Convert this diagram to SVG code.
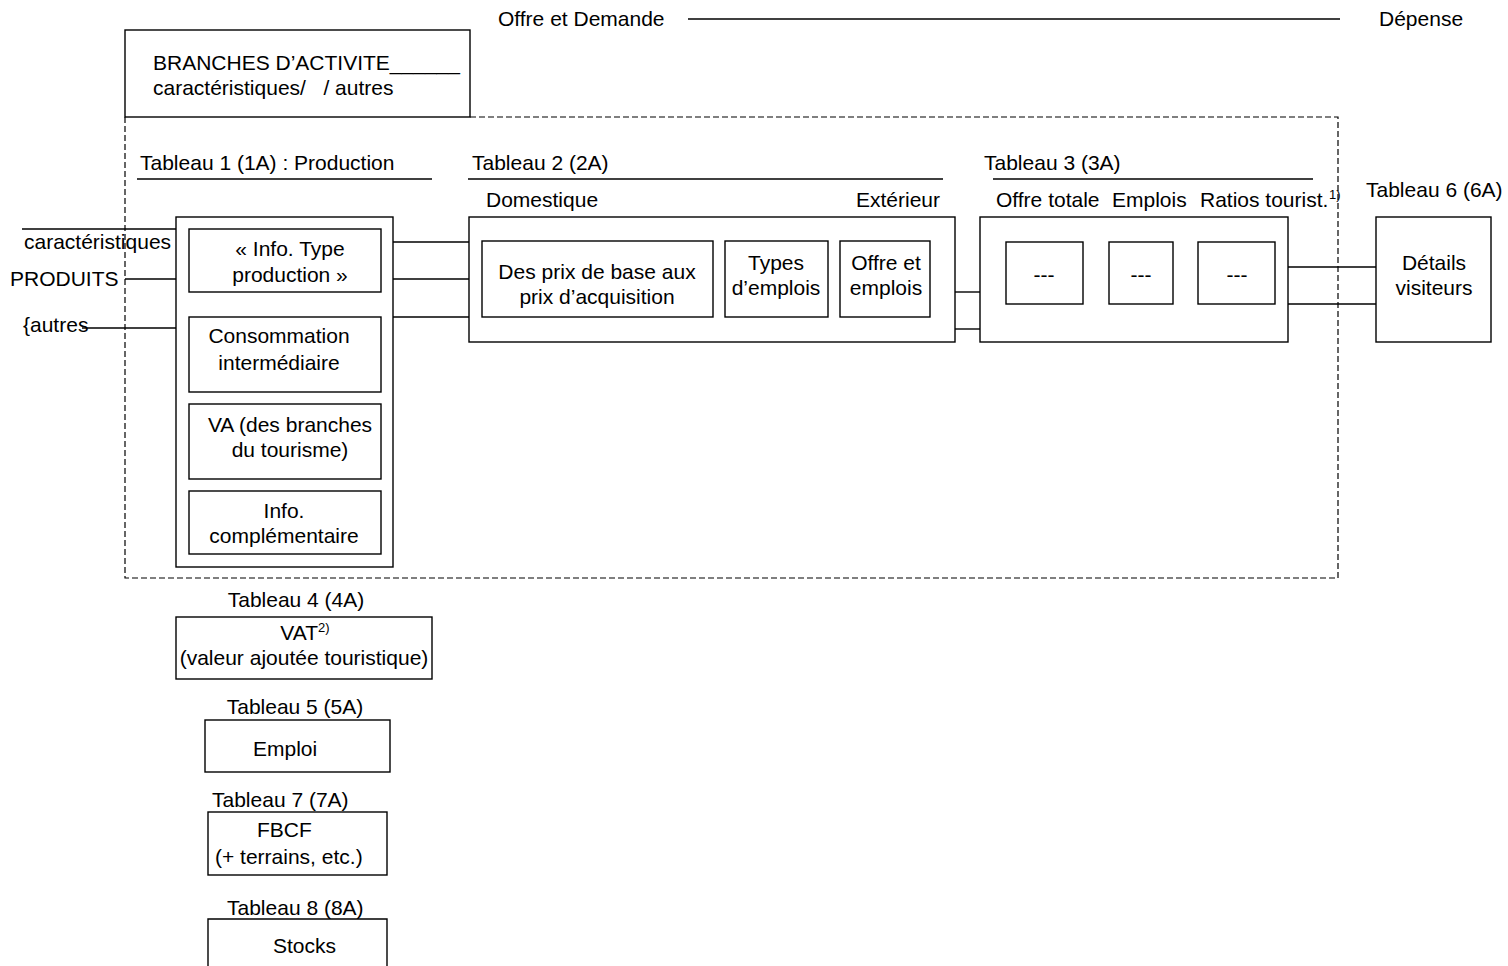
<svg xmlns="http://www.w3.org/2000/svg" width="1508" height="966" viewBox="0 0 1508 966">
<style>
text{font-family:"Liberation Sans",Arial,sans-serif;font-size:21px;fill:#000;white-space:pre}
.m{text-anchor:middle}
.e{text-anchor:end}
.sup{font-size:13px}
.box{fill:none;stroke:#000;stroke-width:1.4}
.ln{fill:none;stroke:#000;stroke-width:1.4}
.dash{fill:none;stroke:#000;stroke-width:1.2;stroke-dasharray:6 3}
</style>
<rect width="1508" height="966" fill="#fff"/>

<g id="header">
<text x="498" y="26">Offre et Demande</text>
<text x="1379" y="26">Dépense</text>
</g>

<g id="branches">
<rect class="box" x="125" y="30" width="345" height="87"/>
<text x="153" y="70">BRANCHES D’ACTIVITE______</text>
<text x="153" y="95">caractéristiques/   / autres</text>
</g>

<g id="scope">
<path class="dash" d="M470 117 H1338 V578 H125 V117"/>
</g>

<g id="produits">
<text x="24" y="249">caractéristiques</text>
<text x="10" y="286">PRODUITS</text>
<text x="23" y="332">{autres</text>
</g>

<g id="tableau1">
<text x="140" y="170">Tableau 1 (1A) : Production</text>
<line class="ln" x1="137" y1="179" x2="432" y2="179"/>
<rect class="box" x="176" y="217" width="217" height="350"/>
<rect class="box" x="189" y="229" width="192" height="63"/>
<text class="m" x="290" y="256">« Info. Type</text>
<text class="m" x="290" y="282">production »</text>
<rect class="box" x="189" y="317" width="192" height="75"/>
<text class="m" x="279" y="343">Consommation</text>
<text class="m" x="279" y="370">intermédiaire</text>
<rect class="box" x="189" y="404" width="192" height="75"/>
<text class="m" x="290" y="432">VA (des branches</text>
<text class="m" x="290" y="457">du tourisme)</text>
<rect class="box" x="189" y="491" width="192" height="63"/>
<text class="m" x="284" y="518">Info.</text>
<text class="m" x="284" y="543">complémentaire</text>
</g>

<g id="tableau2">
<text x="472" y="170">Tableau 2 (2A)</text>
<line class="ln" x1="468" y1="179" x2="943" y2="179"/>
<text x="486" y="207">Domestique</text>
<text class="e" x="940" y="207">Extérieur</text>
<rect class="box" x="469" y="217" width="486" height="125"/>
<rect class="box" x="482" y="241" width="231" height="76"/>
<text class="m" x="597" y="279">Des prix de base aux</text>
<text class="m" x="597" y="304">prix d’acquisition</text>
<rect class="box" x="725" y="241" width="103" height="76"/>
<text class="m" x="776" y="270">Types</text>
<text class="m" x="776" y="295">d’emplois</text>
<rect class="box" x="840" y="241" width="90" height="76"/>
<text class="m" x="886" y="270">Offre et</text>
<text class="m" x="886" y="295">emplois</text>
</g>

<g id="tableau3">
<text x="984" y="170">Tableau 3 (3A)</text>
<line class="ln" x1="993" y1="179" x2="1313" y2="179"/>
<text x="996" y="207">Offre totale</text>
<text x="1112" y="207">Emplois</text>
<text x="1200" y="207">Ratios tourist.</text>
<text class="sup" x="1329" y="199">1)</text>
<rect class="box" x="980" y="217" width="308" height="125"/>
<rect class="box" x="1006" y="242" width="77" height="62"/>
<text class="m" x="1044" y="282">---</text>
<rect class="box" x="1109" y="242" width="64" height="62"/>
<text class="m" x="1141" y="282">---</text>
<rect class="box" x="1198" y="242" width="77" height="62"/>
<text class="m" x="1237" y="282">---</text>
</g>

<g id="tableau6">
<text x="1366" y="197">Tableau 6 (6A)</text>
<rect class="box" x="1376" y="217" width="115" height="125"/>
<text class="m" x="1434" y="270">Détails</text>
<text class="m" x="1434" y="295">visiteurs</text>
</g>

<g id="tableau4">
<text class="m" x="296" y="607">Tableau 4 (4A)</text>
<rect class="box" x="176" y="617" width="256" height="62"/>
<text class="m" x="305" y="640">VAT<tspan class="sup" dy="-8">2)</tspan></text>
<text class="m" x="304" y="665">(valeur ajoutée touristique)</text>
</g>

<g id="tableau5">
<text class="m" x="295" y="714">Tableau 5 (5A)</text>
<rect class="box" x="205" y="720" width="185" height="52"/>
<text x="253" y="756">Emploi</text>
</g>

<g id="tableau7">
<text x="212" y="807">Tableau 7 (7A)</text>
<rect class="box" x="208" y="812" width="179" height="63"/>
<text x="257" y="837">FBCF</text>
<text x="215" y="864">(+ terrains, etc.)</text>
</g>

<g id="tableau8">
<text x="227" y="915">Tableau 8 (8A)</text>
<path class="ln" d="M208 968 V919 H387 V968"/>
<text x="273" y="953">Stocks</text>
</g>

<g id="connectors">
<line class="ln" x1="688" y1="19" x2="1340" y2="19" stroke-width="1.6"/>
<line class="ln" x1="22" y1="229" x2="176" y2="229"/>
<line class="ln" x1="125" y1="279" x2="176" y2="279"/>
<line class="ln" x1="82" y1="328" x2="176" y2="328"/>
<line class="ln" x1="393" y1="242" x2="469" y2="242"/>
<line class="ln" x1="393" y1="279" x2="469" y2="279"/>
<line class="ln" x1="393" y1="317" x2="469" y2="317"/>
<line class="ln" x1="955" y1="292" x2="980" y2="292"/>
<line class="ln" x1="955" y1="329" x2="980" y2="329"/>
<line class="ln" x1="1288" y1="267" x2="1376" y2="267"/>
<line class="ln" x1="1288" y1="304" x2="1376" y2="304"/>
</g>
</svg>
